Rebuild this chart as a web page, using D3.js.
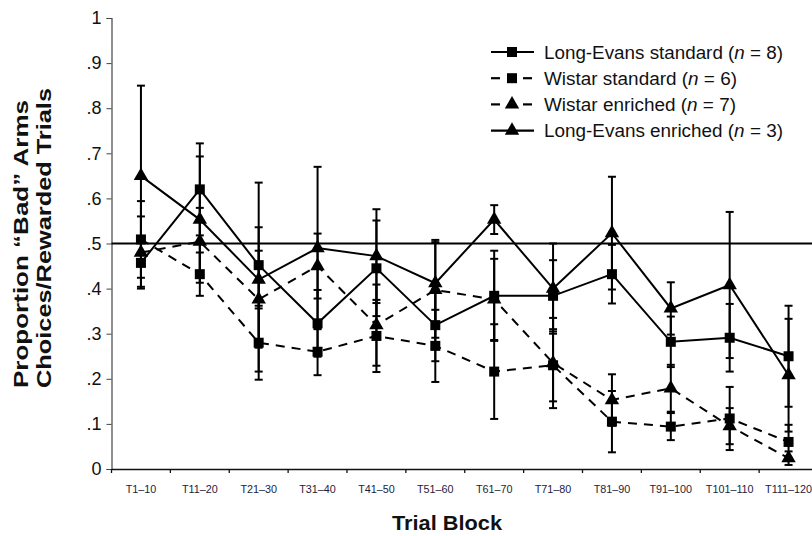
<!DOCTYPE html>
<html>
<head>
<meta charset="utf-8">
<script src="https://cdn.jsdelivr.net/npm/d3@7/dist/d3.min.js"></script>
<style>
  html, body { margin: 0; padding: 0; background: #fff; }
  svg { display: block; font-family: "Liberation Sans", Arial, sans-serif; }
</style>
</head>
<body>
<svg id="chart" width="812" height="536"></svg>
<script>
const categories = ["T1–10","T11–20","T21–30","T31–40","T41–50","T51–60","T61–70","T71–80","T81–90","T91–100","T101–110","T111–120"];
const yTicks = [0, 0.1, 0.2, 0.3, 0.4, 0.5, 0.6, 0.7, 0.8, 0.9, 1];
const yTickLabels = ["0", ".1", ".2", ".3", ".4", ".5", ".6", ".7", ".8", ".9", "1"];

// Long-Evans standard (n = 8)
const leStd    = [0.457, 0.620, 0.452, 0.323, 0.445, 0.319, 0.384, 0.384, 0.432, 0.282, 0.291, 0.250];
const leStdErr = [0.053, 0.102, 0.183, 0.074, 0.106, 0.080, 0.100, 0.079, 0.065, 0.056, 0.075, 0.112];
// Wistar standard (n = 6)
const wiStd    = [0.509, 0.432, 0.280, 0.260, 0.295, 0.273, 0.216, 0.230, 0.105, 0.094, 0.112, 0.060];
const wiStdErr = [0.085, 0.048, 0.082, 0.052, 0.080, 0.080, 0.105, 0.080, 0.068, 0.030, 0.070, 0.038];
// Wistar enriched (n = 7)
const wiEnr    = [0.480, 0.504, 0.376, 0.450, 0.319, 0.397, 0.376, 0.235, 0.153, 0.179, 0.095, 0.024];
const wiEnrErr = [0.080, 0.075, 0.160, 0.072, 0.090, 0.106, 0.090, 0.100, 0.057, 0.052, 0.040, 0.015];
// Long-Evans enriched (n = 3)
const leEnr    = [0.650, 0.553, 0.420, 0.490, 0.472, 0.412, 0.553, 0.400, 0.523, 0.356, 0.408, 0.208];
const leEnrErr = [0.200, 0.140, 0.064, 0.180, 0.104, 0.096, 0.032, 0.100, 0.125, 0.058, 0.162, 0.125];

const legendLabels = ["Long-Evans standard", "Wistar standard", "Wistar enriched", "Long-Evans enriched"];
const legendN = [8, 6, 7, 3];
const referenceValue = 0.5;

const series = [
  { name: legendLabels[0], n: legendN[0], values: leStd, err: leStdErr, dashed: false, marker: "square" },
  { name: legendLabels[1], n: legendN[1], values: wiStd, err: wiStdErr, dashed: true,  marker: "square" },
  { name: legendLabels[2], n: legendN[2], values: wiEnr, err: wiEnrErr, dashed: true,  marker: "triangle" },
  { name: legendLabels[3], n: legendN[3], values: leEnr, err: leEnrErr, dashed: false, marker: "triangle" }
];

const svg = d3.select("#chart");
const mLeft = 111.5, mRight = 818, mTop = 18, mBottom = 469;

const x = d3.scaleBand().domain(categories).range([mLeft, mRight]).paddingInner(0).paddingOuter(0);
const y = d3.scaleLinear().domain([0, 1]).range([mBottom, mTop]);
const cx = c => x(c) + x.bandwidth() / 2;

// Y axis
const yAxis = d3.axisLeft(y).tickValues(yTicks).tickFormat((d, i) => yTickLabels[i]).tickSize(5).tickPadding(5);
const gy = svg.append("g").attr("transform", `translate(${mLeft},0)`).call(yAxis);
gy.select(".domain").attr("stroke", "#444").attr("stroke-width", 1.2);
gy.selectAll(".tick line").attr("stroke", "#444");
gy.selectAll(".tick text").attr("font-size", 18).attr("fill", "#111").attr("font-family", "Liberation Sans, Arial, sans-serif");

// X axis
const xAxis = d3.axisBottom(x).tickSize(0).tickPadding(16);
const gx = svg.append("g").attr("transform", `translate(0,${mBottom})`).call(xAxis);
gx.select(".domain").attr("stroke", "#111").attr("stroke-width", 1.6);
gx.selectAll(".tick text").attr("font-size", 10.8).attr("fill", "#1c1c3c").attr("font-family", "Liberation Sans, Arial, sans-serif");
gx.selectAll(".bound").data(categories.slice(1)).enter().append("line")
  .attr("class", "bound")
  .attr("x1", d => x(d)).attr("x2", d => x(d))
  .attr("y1", 0).attr("y2", 4).attr("stroke", "#111").attr("stroke-width", 1.3);
gx.append("line").attr("x1", mLeft).attr("x2", mLeft).attr("y1", 0).attr("y2", 4).attr("stroke", "#111").attr("stroke-width", 1.3);

// Reference line at .5
svg.append("line")
  .attr("x1", mLeft).attr("x2", 812)
  .attr("y1", y(referenceValue)).attr("y2", y(referenceValue))
  .attr("stroke", "#000").attr("stroke-width", 2);

// Error bars
const capW = 4;
series.forEach(s => {
  const g = svg.append("g");
  categories.forEach((c, i) => {
    const v = s.values[i], e = s.err[i];
    const hi = y(Math.min(1, v + e)), lo = y(Math.max(0, v - e));
    g.append("line").attr("x1", cx(c)).attr("x2", cx(c)).attr("y1", hi).attr("y2", lo)
      .attr("stroke", "#000").attr("stroke-width", 2);
    [hi, lo].forEach(yy => g.append("line").attr("x1", cx(c) - capW).attr("x2", cx(c) + capW)
      .attr("y1", yy).attr("y2", yy).attr("stroke", "#000").attr("stroke-width", 2));
  });
});

// Lines
const line = d3.line().x((d, i) => cx(categories[i])).y(d => y(d));
series.forEach(s => {
  svg.append("path").datum(s.values)
    .attr("d", line)
    .attr("fill", "none").attr("stroke", "#000").attr("stroke-width", 2)
    .attr("stroke-dasharray", s.dashed ? "9,7" : null);
});

// Markers
const sqSym = d3.symbol().type(d3.symbolSquare).size(100);
const triSym = d3.symbol().type(d3.symbolTriangle).size(90);
series.forEach(s => {
  svg.append("g").selectAll("path").data(s.values).enter().append("path")
    .attr("transform", (d, i) => `translate(${cx(categories[i])},${y(d)})`)
    .attr("d", s.marker === "square" ? sqSym() : triSym())
    .attr("fill", "#000");
});

// Legend
const legendEnds = [783, 737, 736, 783];
const lg = svg.append("g").attr("transform", "translate(490,52)");
series.forEach((s, i) => {
  const row = lg.append("g").attr("transform", `translate(0,${i * 26.2})`);
  if (s.dashed) {
    row.append("line").attr("x1", 1).attr("x2", 10).attr("y1", 0).attr("y2", 0).attr("stroke", "#000").attr("stroke-width", 2.2);
    row.append("line").attr("x1", 33).attr("x2", 42).attr("y1", 0).attr("y2", 0).attr("stroke", "#000").attr("stroke-width", 2.2);
  } else {
    row.append("line").attr("x1", 1).attr("x2", 44).attr("y1", 0).attr("y2", 0).attr("stroke", "#000").attr("stroke-width", 2.2);
  }
  row.append("path").attr("transform", "translate(22,0)")
    .attr("d", s.marker === "square" ? sqSym() : triSym()).attr("fill", "#000");
  const t = row.append("text").attr("x", 54).attr("y", 6.5).attr("font-size", 17.5).attr("fill", "#111")
    .attr("textLength", legendEnds[i] - 544).attr("lengthAdjust", "spacingAndGlyphs");
  t.append("tspan").text(s.name + " (");
  t.append("tspan").attr("font-style", "italic").text("n");
  t.append("tspan").text(" = " + s.n + ")");
});

// Axis titles
svg.append("text")
  .attr("transform", "translate(28,244) rotate(-90)")
  .attr("text-anchor", "middle").attr("font-weight", "bold").attr("font-size", 21).attr("fill", "#111")
  .attr("textLength", 288).attr("lengthAdjust", "spacingAndGlyphs")
  .text("Proportion “Bad” Arms");
svg.append("text")
  .attr("transform", "translate(51,238) rotate(-90)")
  .attr("text-anchor", "middle").attr("font-weight", "bold").attr("font-size", 21).attr("fill", "#111")
  .attr("textLength", 300).attr("lengthAdjust", "spacingAndGlyphs")
  .text("Choices/Rewarded Trials");

svg.append("text").attr("x", 447).attr("y", 530)
  .attr("text-anchor", "middle").attr("font-weight", "bold").attr("font-size", 20.5).attr("fill", "#111")
  .attr("textLength", 110).attr("lengthAdjust", "spacingAndGlyphs")
  .text("Trial Block");
</script>
</body>
</html>
